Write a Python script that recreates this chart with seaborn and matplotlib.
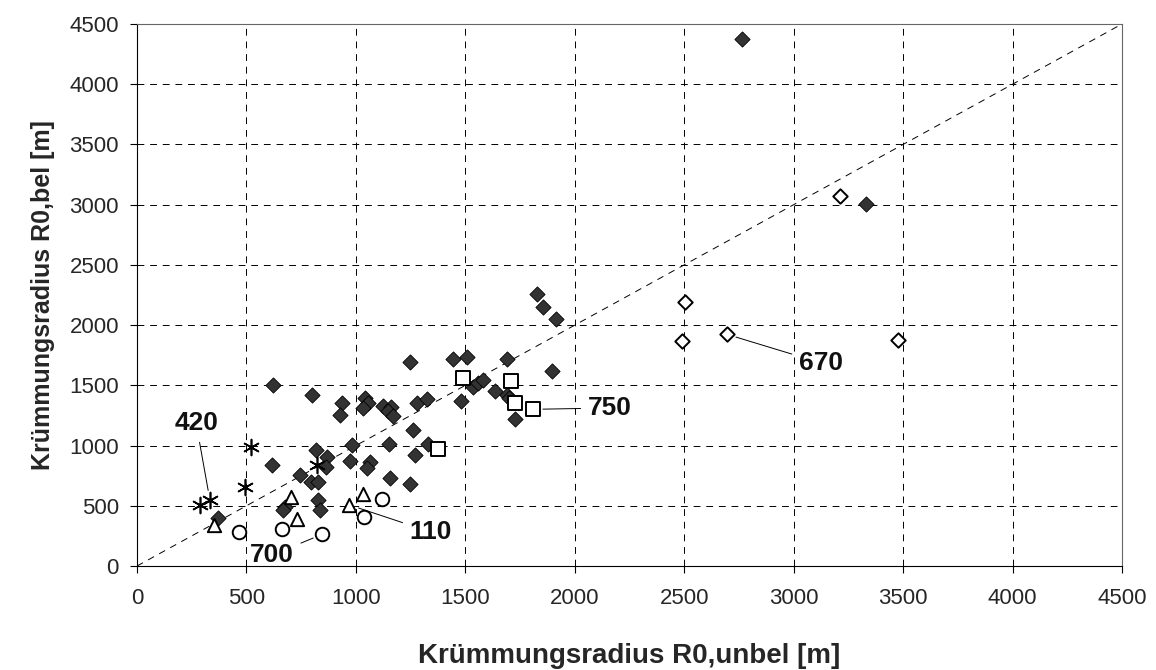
import matplotlib
matplotlib.use("Agg")
import matplotlib.pyplot as plt
import pandas as pd
import seaborn as sns

# Krümmungsradius R0 unbelastet (x) und belastet (y) in m
# Hauptkollektiv (gefüllte Rauten)
main_x = [2765, 3330, 1826, 1856, 1914, 1894, 1442, 1506, 1689, 1536, 1559, 1582,
          1481, 1635, 1689, 1700, 1727, 1247, 623, 798, 935, 927, 1042, 1057,
          1034, 1125, 1160, 1145, 1170, 1278, 1324, 1259, 1331, 1153, 983, 1270,
          1247, 1156, 973, 1064, 1049, 818, 867, 862, 745, 794, 828, 615,
          676, 668, 828, 836, 371]
main_y = [4375, 3005, 2259, 2149, 2051, 1615, 1717, 1735, 1717, 1484, 1517, 1545,
          1372, 1456, 1420, 1395, 1221, 1693, 1499, 1420, 1351, 1254, 1393, 1351,
          1310, 1330, 1320, 1290, 1245, 1351, 1385, 1130, 1012, 1015, 1005, 922,
          681, 728, 870, 860, 815, 965, 905, 818, 756, 694, 694, 835,
          493, 465, 548, 465, 396]

# Weitere Kollektive
open_diamond_x = [3213, 2502, 2488, 2694, 3478]
open_diamond_y = [3076, 2195, 1869, 1924, 1877]
square_x = [1491, 1709, 1727, 1810, 1373]
square_y = [1559, 1537, 1351, 1301, 975]
triangle_x = [352, 702, 729, 970, 1031]
triangle_y = [341, 576, 388, 507, 596]
circle_x = [467, 664, 846, 1039, 1121]
circle_y = [285, 305, 263, 405, 554]
star_x = [288, 333, 493, 519, 821]
star_y = [507, 548, 659, 991, 839]

# Beschriftete Punkte
ann_text = ["420", "110", "700", "670", "750"]
ann_label_x = [270, 1343, 616, 3125, 2161]
ann_label_y = [1188, 282, 91, 1686, 1312]
ann_point_x = [333, 970, 846, 2694, 1810]
ann_point_y = [548, 507, 263, 1924, 1301]

tick_values = [0, 500, 1000, 1500, 2000, 2500, 3000, 3500, 4000, 4500]

sns.set_theme(style="white")
plt.rcParams["font.family"] = ["Liberation Sans", "DejaVu Sans"]

fig = plt.figure(figsize=(11.56, 6.70), dpi=100)
ax = fig.add_axes([0.1185, 0.1552, 0.8521, 0.8090])

ax.axline((0, 0), slope=1, color="black", lw=0.7, linestyle=(0, (7, 6)), zorder=1)

open_kw = dict(facecolor="white", edgecolor="black", linewidth=1.4, zorder=3)

sns.scatterplot(x=main_x, y=main_y, marker="D", s=60, color="#333333",
                edgecolor="black", linewidth=0.6, ax=ax, zorder=3)
sns.scatterplot(x=open_diamond_x, y=open_diamond_y, marker="D", s=54, ax=ax, **open_kw)
sns.scatterplot(x=square_x, y=square_y, marker="s", s=95, ax=ax, **open_kw)
sns.scatterplot(x=triangle_x, y=triangle_y, marker="^", s=92, ax=ax, **open_kw)
sns.scatterplot(x=circle_x, y=circle_y, marker="o", s=95, ax=ax, **open_kw)
ax.scatter(star_x, star_y, marker=(6, 2, 0), s=130, color="black", linewidth=1.2, zorder=3)

for t, lx, ly, px, py in zip(ann_text, ann_label_x, ann_label_y, ann_point_x, ann_point_y):
    ax.annotate(t, xy=(px, py), xytext=(lx, ly), ha="center", va="center",
                fontsize=19, fontweight="bold", color="#111111",
                arrowprops=dict(arrowstyle="-", color="black", lw=0.7,
                                shrinkA=3, shrinkB=7))

ax.set_xlim(0, 4500)
ax.set_ylim(0, 4500)
ax.set_xticks(tick_values)
ax.set_yticks(tick_values)
ax.set_xticklabels([str(v) for v in tick_values], fontsize=16)
ax.set_yticklabels([str(v) for v in tick_values], fontsize=16)
ax.tick_params(axis="both", direction="out", length=5, width=0.8, color="black",
               bottom=True, left=True)
ax.tick_params(axis="x", pad=11)
ax.tick_params(axis="y", pad=8)

ax.grid(True, color="black", lw=0.7, linestyle=(0, (7, 6)))
ax.set_axisbelow(True)
for side, sp in ax.spines.items():
    sp.set_visible(True)
    sp.set_color("black" if side in ("left", "bottom") else "#666666")
    sp.set_linewidth(0.8)

ax.set_xlabel("Krümmungsradius R0,unbel [m]", fontsize=20, fontweight="bold", labelpad=24)
ax.set_ylabel("Krümmungsradius R0,bel [m]", fontsize=18, fontweight="bold", labelpad=10)

fig.savefig("out.png", dpi=100)
